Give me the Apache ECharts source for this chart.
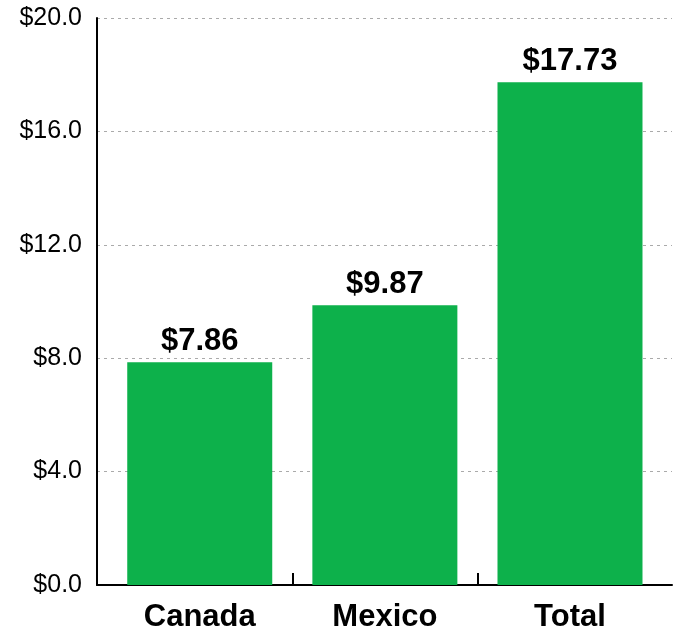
<!DOCTYPE html>
<html>
<head>
<meta charset="utf-8">
<style>html,body{margin:0;padding:0;background:#fff}#c{width:677px;height:633px}</style>
<script src="https://cdn.jsdelivr.net/npm/echarts@6/dist/echarts.min.js"></script>
</head>
<body>
<div id="c"></div>
<script>
var categories = ['Canada', 'Mexico', 'Total'];
var values = [7.86, 9.87, 17.73];
var yTicks = [0, 4, 8, 12, 16, 20];

var chart = echarts.init(document.getElementById('c'));
var font = '"Liberation Sans", Arial, Helvetica, sans-serif';
chart.setOption({
  animation: false,
  grid: { left: 97, right: 5, top: 18, bottom: 46 },
  xAxis: {
    type: 'value',
    min: -0.555,
    max: 2.551,
    splitLine: { show: false },
    axisLine: { show: true, onZero: false, lineStyle: { color: '#000', width: 2 } },
    axisTick: { show: true, inside: true, length: 12, customValues: [0.5, 1.5], lineStyle: { color: '#000', width: 2 } },
    axisLabel: {
      customValues: [0, 1, 2],
      formatter: function (v) { return categories[Math.round(v)]; },
      color: '#000', fontFamily: font, fontSize: 31, fontWeight: 'bold', margin: 17
    }
  },
  yAxis: {
    type: 'value',
    min: yTicks[0],
    max: yTicks[yTicks.length - 1],
    interval: 4,
    axisLine: { show: true, onZero: false, lineStyle: { color: '#000', width: 2 } },
    axisTick: { show: false },
    axisLabel: {
      formatter: function (v) { return '$' + v.toFixed(1); },
      color: '#000', fontFamily: font, fontSize: 25, margin: 15
    },
    splitLine: { show: true, lineStyle: { color: '#aaa', type: [3, 4], width: 1 } }
  },
  series: [{
    type: 'bar',
    barWidth: 145,
    itemStyle: { color: '#0db14b' },
    data: values.map(function (v, i) { return [i, v]; }),
    label: {
      show: true, position: 'top', distance: 5,
      formatter: function (p) { return '$' + p.value[1].toFixed(2); },
      color: '#000', fontFamily: font, fontSize: 31, fontWeight: 'bold'
    }
  }]
});
</script>
</body>
</html>
